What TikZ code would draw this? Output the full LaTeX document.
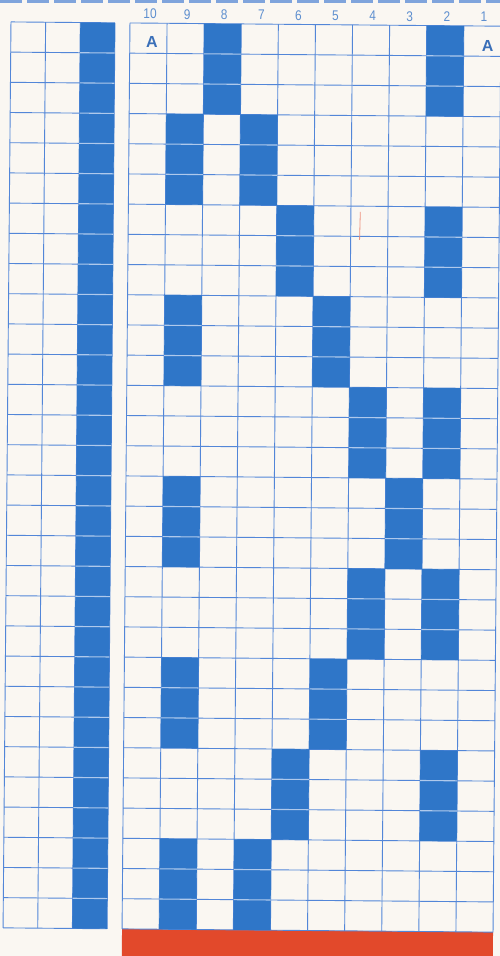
\documentclass[tikz,border=0pt]{standalone}
\usepackage{fontspec}
\setmainfont{Liberation Sans}
\definecolor{paper}{HTML}{FAF7F2}
\definecolor{cellblue}{HTML}{2F76C8}
\definecolor{gridblue}{HTML}{5286D8}
\definecolor{sepblue}{HTML}{AFC9EC}
\definecolor{numblue}{HTML}{5E8FCF}
\definecolor{letterblue}{HTML}{3A6FB8}
\definecolor{barred}{HTML}{E2492B}
\definecolor{topdash}{HTML}{7FA4DC}
\begin{document}
\begin{tikzpicture}[x=1pt,y=-1pt,
  gridline/.style={draw=gridblue, line width=0.9pt},
  sepline/.style={draw=sepblue, line width=1.1pt},
  numlabel/.style={text=numblue, font=\fontsize{14}{14}\selectfont, inner sep=0pt, xscale=0.85},
  letterlabel/.style={text=letterblue, font=\fontsize{16}{16}\selectfont\bfseries, inner sep=0pt}]
\useasboundingbox (0,0) rectangle (500,956);
\fill[paper] (0,0) rectangle (500,956);
\draw[topdash, line width=2.5pt, dash pattern=on 22pt off 5pt] (0,1.5) -- (500,1.5);
\begin{scope}[rotate around={-0.5:(250,477)}]
  % red bar
  \fill[barred] (126,930) rectangle (497,975);
  % right grid lines
  \foreach \i in {0,...,10} \draw[gridline] ({126+\i*37.1},24) -- ({126+\i*37.1},930);
  \foreach \r in {0,...,30} \draw[gridline] (126,{24+\r*30.2}) -- (497,{24+\r*30.2});
  % left grid lines
  \foreach \i in {0,...,3} \draw[gridline] ({7+\i*34.667},24) -- ({7+\i*34.667},930);
  \foreach \r in {0,...,30} \draw[gridline] (7,{24+\r*30.2}) -- (111,{24+\r*30.2});
  % left blue column
  \fill[cellblue] (76.33,24) rectangle (111,930);
  \foreach \r in {1,...,29} \draw[sepline] (76.33,{24+\r*30.2}) -- (111,{24+\r*30.2});
  % blue blocks of the right grid
  \foreach \lab/\row in {8/1,2/1,9/4,7/4,6/7,2/7,9/10,5/10,4/13,2/13,9/16,3/16,4/19,2/19,9/22,5/22,6/25,2/25,9/28,7/28} {
    \pgfmathsetmacro{\bx}{126+(10-\lab)*37.1}
    \pgfmathsetmacro{\by}{24+(\row-1)*30.2}
    \fill[cellblue] (\bx,\by) rectangle ++(37.1,90.6);
    \draw[sepline] (\bx,{\by+30.2}) -- ++(37.1,0);
    \draw[sepline] (\bx,{\by+60.4}) -- ++(37.1,0);
  }
  % column numbers
  \foreach \lab in {10,9,...,1} {
    \node[numlabel] (h\lab) at ({126+(10-\lab)*37.1+20},15) {\lab};
  }
  % letters
  \node[letterlabel] (aleft) at (148,43) {A};
  \node[letterlabel] (aright) at (484,44) {A};
  % faint red pencil tick
  \draw[barred!60, line width=0.8pt] (358,211) -- (357.5,239);
\end{scope}
\end{tikzpicture}
\end{document}
